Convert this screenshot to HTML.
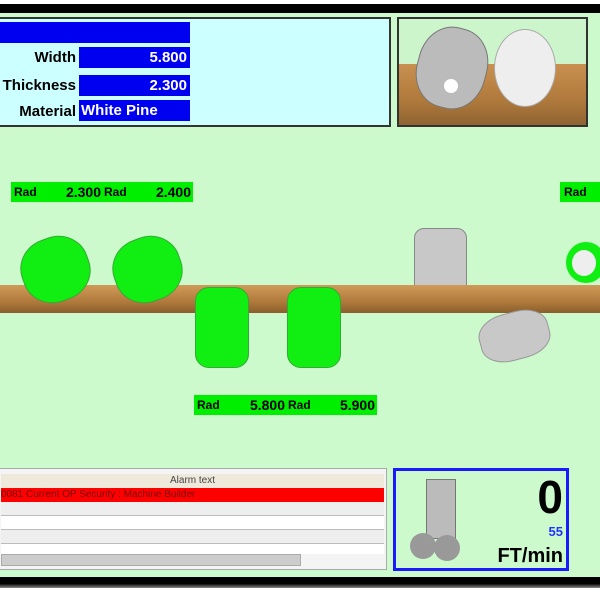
<!DOCTYPE html>
<html><head><style>
*{margin:0;padding:0;box-sizing:border-box}
body{width:600px;height:600px;background:#fff;position:relative;overflow:hidden;font-family:"Liberation Sans",sans-serif}
.a{position:absolute}
.bar{background:#0000f0;color:#fff;font-weight:bold;font-size:15px;line-height:21px}
.lbl{font-weight:bold;font-size:15px;text-align:right;color:#000;line-height:21px}
.rad{background:#00ee00;font-weight:bold;color:#000;height:20px;line-height:20px}
</style></head><body>
<div class="a" style="left:0;top:4px;width:600px;height:9px;background:#000"></div>
<div class="a" style="left:0;top:13px;width:600px;height:565px;background:#ccfacc"></div>
<div class="a" style="left:0;top:577px;width:600px;height:11px;background:linear-gradient(#000 60%,#888)"></div>

<div class="a" style="left:-2px;top:17px;width:393px;height:110px;background:#ccffff;border:2px solid #333"></div>
<div class="a bar" style="left:0;top:22px;width:190px;height:21px"></div>
<div class="a lbl" style="left:0;top:47px;width:76px">Width</div>
<div class="a bar" style="left:79px;top:47px;width:111px;height:21px;text-align:right;padding-right:3px">5.800</div>
<div class="a lbl" style="left:-10px;top:75px;width:86px">Thickness</div>
<div class="a bar" style="left:79px;top:75px;width:111px;height:21px;text-align:right;padding-right:3px">2.300</div>
<div class="a lbl" style="left:0;top:101px;width:76px">Material</div>
<div class="a bar" style="left:79px;top:100px;width:111px;height:21px;padding-left:2px">White Pine</div>

<div class="a" style="left:397px;top:17px;width:191px;height:110px;border:2px solid #333;background:#ccf5cc;overflow:hidden">
 <div class="a" style="left:0;top:45px;width:190px;height:65px;background:linear-gradient(#c99050,#b07a3c 55%,#8a6030)"></div>
 <div class="a" style="left:18px;top:8px;width:70px;height:82px;border-radius:45%;background:#bbb;border:1px solid #777;transform:rotate(15deg)"></div>
 <div class="a" style="left:45px;top:60px;width:14px;height:14px;border-radius:50%;background:#fff"></div>
 <div class="a" style="left:95px;top:10px;width:62px;height:78px;border-radius:50%;background:#eee;border:1px solid #aaa"></div>
</div>

<div class="a rad" style="left:11px;top:182px;width:182px"><span class="a" style="left:3px;font-size:12px">Rad</span><span class="a" style="left:31px;width:59px;text-align:right;font-size:14px">2.300</span><span class="a" style="left:93px;font-size:12px">Rad</span><span class="a" style="left:122px;width:58px;text-align:right;font-size:14px">2.400</span></div>
<div class="a rad" style="left:560px;top:182px;width:40px"><span class="a" style="left:4px;font-size:12px">Rad</span></div>
<div class="a rad" style="left:194px;top:395px;width:183px"><span class="a" style="left:3px;font-size:12px">Rad</span><span class="a" style="left:33px;width:58px;text-align:right;font-size:14px">5.800</span><span class="a" style="left:94px;font-size:12px">Rad</span><span class="a" style="left:124px;width:57px;text-align:right;font-size:14px">5.900</span></div>

<div class="a" style="left:414px;top:228px;width:53px;height:60px;background:#c8c8c8;border:1px solid #888;border-radius:10px 10px 0 0"></div>
<div class="a" style="left:0;top:285px;width:600px;height:28px;background:linear-gradient(#d09a58,#b07a3c 60%,#8a5e2c)"></div>
<div class="a" style="left:21px;top:237px;width:69px;height:65px;background:#11ee11;border-radius:45%;border:1px solid #3a3;transform:rotate(-20deg)"></div>
<div class="a" style="left:113px;top:237px;width:69px;height:65px;background:#11ee11;border-radius:45%;border:1px solid #3a3;transform:rotate(-20deg)"></div>
<div class="a" style="left:195px;top:287px;width:54px;height:81px;background:#11ee11;border-radius:14px;border:1px solid #3a3"></div>
<div class="a" style="left:287px;top:287px;width:54px;height:81px;background:#11ee11;border-radius:14px;border:1px solid #3a3"></div>
<div class="a" style="left:479px;top:312px;width:71px;height:48px;background:#c8c8c8;border-radius:40%;border:1px solid #999;transform:rotate(-15deg)"></div>
<div class="a" style="left:566px;top:242px;width:40px;height:41px;background:#11ee11;border-radius:50%"></div>
<div class="a" style="left:572px;top:250px;width:24px;height:26px;background:#eee;border-radius:50%"></div>

<div class="a" style="left:-2px;top:468px;width:389px;height:102px;background:#f4f4f4;border:1px solid #aaa;font-size:10px">
 <div class="a" style="left:2px;top:5px;width:383px;height:14px;background:#efe9dc;text-align:center;line-height:14px;color:#444">Alarm text</div>
 <div class="a" style="left:2px;top:19px;width:383px;height:14px;background:#f00;color:#700;line-height:14px">0081 Current OP Security : Machine Builder</div>
 <div class="a" style="left:2px;top:33px;width:383px;height:14px;background:#eee;border-bottom:1px solid #bbb"></div>
 <div class="a" style="left:2px;top:47px;width:383px;height:14px;background:#fff;border-bottom:1px solid #bbb"></div>
 <div class="a" style="left:2px;top:61px;width:383px;height:14px;background:#eee;border-bottom:1px solid #bbb"></div>
 <div class="a" style="left:2px;top:75px;width:383px;height:10px;background:#fff"></div>
 <div class="a" style="left:2px;top:85px;width:300px;height:12px;background:#ccc;border:1px solid #aaa"></div>
</div>

<div class="a" style="left:393px;top:468px;width:176px;height:103px;border:3px solid #1a1aff;background:#ccfacc">
 <div class="a" style="left:30px;top:8px;width:30px;height:60px;background:#bbb;border:1px solid #777"></div>
 <div class="a" style="left:14px;top:62px;width:26px;height:26px;border-radius:50%;background:#999"></div>
 <div class="a" style="left:38px;top:64px;width:26px;height:26px;border-radius:50%;background:#999"></div>
 <div class="a" style="right:3px;top:0;font-size:46px;font-weight:bold;line-height:52px">0</div>
 <div class="a" style="right:3px;top:53px;font-size:13px;font-weight:bold;color:#2233ff">55</div>
 <div class="a" style="right:3px;top:74px;font-size:20px;font-weight:bold">FT/min</div>
</div>
</body></html>
